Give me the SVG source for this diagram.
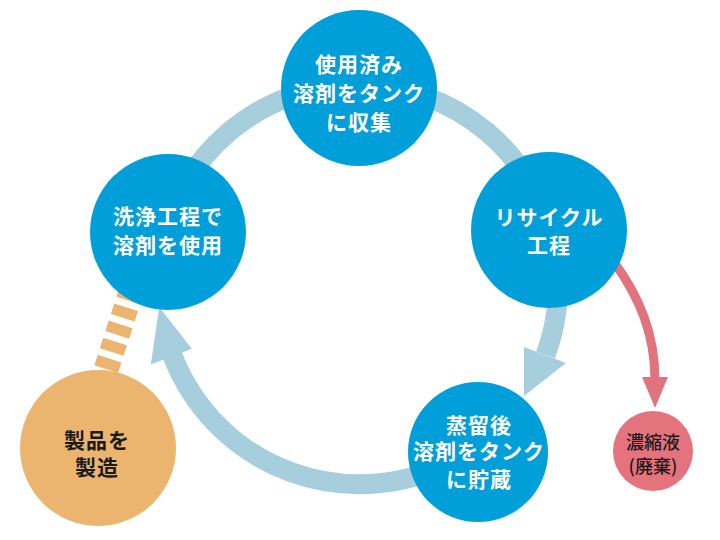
<svg xmlns="http://www.w3.org/2000/svg" width="720" height="540" viewBox="0 0 720 540">
<style>
.ring{fill:none;stroke:#a7cedd;stroke-width:20}
.ahead{fill:#a7cedd}
.blue{fill:#009fda}
.t{font-family:"Noto Sans CJK JP","Noto Sans",sans-serif;font-weight:bold;font-size:21px;text-anchor:middle;letter-spacing:1px}
.w{fill:#ffffff}
.k{fill:#1a1a1a}
.r{font-family:"Noto Sans CJK JP","Noto Sans",sans-serif;font-weight:500;font-size:18px;text-anchor:middle;fill:#1a1a1a}
</style>
<g id="connectors">
<path class="ring" d="M161 250.3 A200 200 0 0 1 555 250.3"/>
<path class="ring" d="M557.2 267.6 A200 200 0 0 1 545.5 355"/>
<polygon class="ahead" points="566,363 524,347 524,396"/>
<path class="ring" d="M458 458.2 A200 200 0 0 1 172 354"/>
<polygon class="ahead" points="150.8,364.6 191.8,348.8 159.2,306.9"/>
<path d="M614 262 C640 298 655 335 655 380" fill="none" stroke="#e0737e" stroke-width="9"/>
<polygon points="642,377 668,377 655,408" fill="#e0737e"/>
<path d="M131 292 L104 376" fill="none" stroke="#ebb570" stroke-width="25" stroke-dasharray="11 7" stroke-dashoffset="2"/>
</g>
<g id="n-top">
<circle class="blue" cx="359" cy="88" r="78"/>
<text class="t w" x="359" y="72">使用済み</text>
<text class="t w" x="359" y="101">溶剤をタンク</text>
<text class="t w" x="359" y="130">に収集</text>
</g>
<g id="n-right">
<circle class="blue" cx="549" cy="230" r="78"/>
<text class="t w" x="549" y="225">リサイクル</text>
<text class="t w" x="549" y="253">工程</text>
</g>
<g id="n-left">
<circle class="blue" cx="168" cy="232" r="78"/>
<text class="t w" x="168" y="224">洗浄工程で</text>
<text class="t w" x="168" y="253">溶剤を使用</text>
</g>
<g id="n-bottom">
<circle class="blue" cx="478" cy="452" r="70"/>
<text class="t w" x="479" y="433">蒸留後</text>
<text class="t w" x="479" y="459">溶剤をタンク</text>
<text class="t w" x="479" y="487">に貯蔵</text>
</g>
<g id="n-product">
<circle cx="98" cy="448" r="78" fill="#ebb570"/>
<text class="t k" x="97" y="448">製品を</text>
<text class="t k" x="97" y="475">製造</text>
</g>
<g id="n-waste">
<circle cx="653" cy="451" r="40" fill="#e5737e"/>
<text class="r" x="653" y="449">濃縮液</text>
<text class="r" x="653" y="473">(廃棄)</text>
</g>
</svg>
